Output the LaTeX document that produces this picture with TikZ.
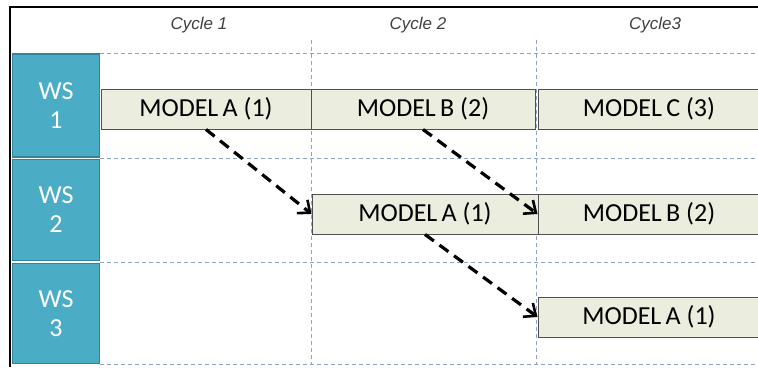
\documentclass[tikz,border=0pt]{standalone}
\usepackage{fontspec}
\setmainfont{Carlito}
\newfontfamily\cyclefont{Liberation Sans}
\usetikzlibrary{arrows.meta}
\definecolor{wsfill}{HTML}{4BACC6}
\definecolor{wsdraw}{HTML}{31849B}
\definecolor{mfill}{HTML}{EBEDDE}
\definecolor{mdraw}{HTML}{505050}
\definecolor{grid}{HTML}{8EA3C6}
\definecolor{cyc}{HTML}{404040}
\tikzset{
  wsbox/.style={draw=wsdraw, line width=1.5pt, fill=wsfill, text=white, align=center,
    font=\fontsize{26}{29}\selectfont, inner sep=0pt},
  modelbox/.style={draw=mdraw, line width=0.9pt, fill=mfill, inner sep=0pt,
    font=\fontsize{26}{28}\selectfont, minimum height=40pt},
  gridline/.style={grid, line width=0.9pt, dash pattern=on 4pt off 3pt},
  cyclabel/.style={text=cyc, font=\cyclefont\itshape\fontsize{17}{19}\selectfont},
  flow/.style={black, line width=3.2pt, dash pattern=on 11pt off 7pt,
    -{Straight Barb[length=10pt, width=17pt, line width=2.6pt]}}
}
\begin{document}
\begin{tikzpicture}[x=1pt, y=-1pt]
\useasboundingbox (0,0) rectangle (758,367);
\fill[white] (0,0) rectangle (758,367);
% grid
\foreach \yy in {53,158,262,364} \draw[gridline] (100,\yy) -- (758,\yy);
\foreach \xx in {311,536} \draw[gridline] (\xx,40) -- (\xx,364);
% frame
\draw[black, line width=2.5pt] (10,367) -- (10,7) -- (758,7);
% cycle labels
\node[cyclabel] (c1) at (199,25) {Cycle 1};
\node[cyclabel] (c2) at (418,25) {Cycle 2};
\node[cyclabel] (c3) at (655,25) {Cycle3};
% WS boxes
\node[wsbox, minimum width=87pt, minimum height=103pt] (ws1) at (56,105.5) {WS\\1};
\node[wsbox, minimum width=87pt, minimum height=101pt] (ws2) at (56,210) {WS\\2};
\node[wsbox, minimum width=87pt, minimum height=100pt] (ws3) at (56,313.5) {WS\\3};
% model boxes
\node[modelbox, minimum width=210pt] (a1) at (206,109) {MODEL\,A (1)};
\node[modelbox, minimum width=224pt] (b1) at (423,109) {MODEL\,B (2)};
\node[modelbox, minimum width=222pt] (c1b) at (649,109) {MODEL\,C (3)};
\node[modelbox, minimum width=226pt] (a2) at (425,214) {MODEL\,A (1)};
\node[modelbox, minimum width=222pt] (b2) at (649,214) {MODEL\,B (2)};
\node[modelbox, minimum width=222pt] (a3) at (649,317) {MODEL\,A (1)};
% arrows
\draw[flow] (a1.south) -- (a2.west);
\draw[flow] (b1.south) -- (b2.west);
\draw[flow] (a2.south) -- (a3.west);
\end{tikzpicture}
\end{document}
